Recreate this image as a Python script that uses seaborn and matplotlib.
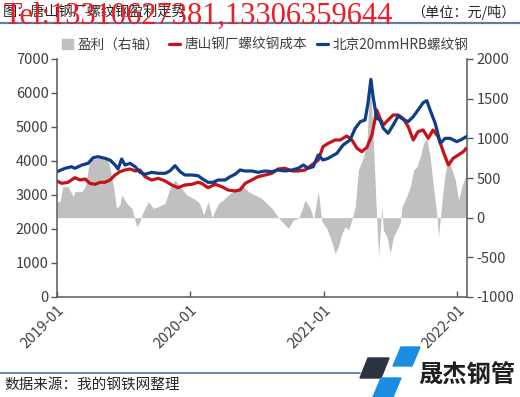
import pandas as pd
import numpy as np
import matplotlib
matplotlib.use("Agg")
import matplotlib.pyplot as plt
import matplotlib.dates as mdates
from matplotlib.patches import Patch, Polygon
from matplotlib.lines import Line2D
import seaborn as sns

# 北京20mmHRB螺纹钢 (元/吨)
blue_dates = ['2019-01-01', '2019-01-23', '2019-02-10', '2019-02-19', '2019-03-10', '2019-03-27',
              '2019-04-10', '2019-04-23', '2019-05-12', '2019-05-26', '2019-06-09', '2019-06-17',
              '2019-06-27', '2019-07-06', '2019-07-20', '2019-08-03', '2019-08-16', '2019-08-30',
              '2019-09-17', '2019-10-05', '2019-10-24', '2019-11-06', '2019-11-20', '2019-12-04',
              '2019-12-17', '2020-01-05', '2020-01-22', '2020-02-01', '2020-02-18', '2020-03-03',
              '2020-03-17', '2020-04-05', '2020-04-19', '2020-05-02', '2020-05-16', '2020-05-30',
              '2020-06-17', '2020-07-04', '2020-07-24', '2020-08-11', '2020-08-28', '2020-09-16',
              '2020-10-05', '2020-10-22', '2020-11-05', '2020-11-18', '2020-12-02', '2020-12-16',
              '2020-12-29', '2021-01-12', '2021-02-05', '2021-02-22', '2021-03-13', '2021-03-27',
              '2021-04-10', '2021-04-23', '2021-05-01', '2021-05-09', '2021-05-15', '2021-05-25',
              '2021-06-03', '2021-06-12', '2021-06-25', '2021-07-09', '2021-07-23', '2021-08-05',
              '2021-08-19', '2021-09-02', '2021-09-15', '2021-09-29', '2021-10-09', '2021-10-18',
              '2021-11-01', '2021-11-15', '2021-11-28', '2021-12-12', '2021-12-30', '2022-01-13',
              '2022-01-25']
blue_vals = [3685, 3785, 3832, 3785, 3882, 3932,
             4098, 4127, 4079, 4029, 3882, 3765,
             4059, 3882, 3932, 3832, 3667, 3608,
             3667, 3638, 3638, 3706, 3862, 3685,
             3588, 3588, 3568, 3490, 3373, 3373,
             3441, 3441, 3539, 3608, 3735, 3706,
             3706, 3667, 3706, 3685, 3735, 3706,
             3735, 3785, 3882, 3785, 3832, 4176,
             4029, 4079, 4226, 4471, 4618, 4961,
             5157, 5206, 5696, 6400, 5891, 5255,
             5206, 4961, 4814, 5059, 5324, 5226,
             5157, 5304, 5500, 5716, 5775, 5500,
             5108, 4520, 4667, 4667, 4569, 4637,
             4716]

# 唐山钢厂螺纹钢成本 (元/吨)
red_dates = ['2019-01-01', '2019-01-14', '2019-01-31', '2019-02-19', '2019-03-05', '2019-03-19',
             '2019-04-01', '2019-04-15', '2019-04-29', '2019-05-12', '2019-05-26', '2019-06-09',
             '2019-06-22', '2019-07-06', '2019-07-20', '2019-08-03', '2019-08-16', '2019-08-30',
             '2019-09-17', '2019-10-05', '2019-10-24', '2019-11-11', '2019-11-28', '2019-12-17',
             '2020-01-05', '2020-01-22', '2020-02-01', '2020-02-18', '2020-03-09', '2020-03-27',
             '2020-04-13', '2020-05-02', '2020-05-16', '2020-05-30', '2020-06-17', '2020-07-04',
             '2020-07-24', '2020-08-11', '2020-08-28', '2020-09-16', '2020-10-05', '2020-10-22',
             '2020-11-10', '2020-11-28', '2020-12-16', '2020-12-29', '2021-01-12', '2021-01-31',
             '2021-02-14', '2021-03-04', '2021-03-18', '2021-04-01', '2021-04-14', '2021-04-28',
             '2021-05-12', '2021-05-25', '2021-06-03', '2021-06-12', '2021-06-25', '2021-07-09',
             '2021-07-23', '2021-08-05', '2021-08-19', '2021-09-02', '2021-09-15', '2021-09-29',
             '2021-10-13', '2021-10-26', '2021-11-09', '2021-11-23', '2021-12-07', '2021-12-20',
             '2022-01-03', '2022-01-17', '2022-01-25']
red_vals = [3412, 3343, 3373, 3510, 3441, 3470,
            3343, 3314, 3373, 3373, 3441, 3588,
            3685, 3735, 3765, 3706, 3735, 3539,
            3441, 3490, 3412, 3294, 3215, 3294,
            3314, 3373, 3343, 3215, 3314, 3245,
            3147, 3118, 3147, 3343, 3441, 3539,
            3588, 3638, 3765, 3785, 3706, 3706,
            3735, 3882, 4029, 4422, 4520, 4618,
            4618, 4735, 4618, 4373, 4275, 4402,
            4765, 5500, 5255, 5059, 5206, 5353,
            5353, 5255, 5010, 4618, 4863, 4912,
            4667, 4912, 4716, 4275, 3882, 4079,
            4176, 4275, 4373]

# 盈利 (右轴, 元/吨)
profit_dates = ['2019-01-01', '2019-01-09', '2019-01-17', '2019-01-31', '2019-02-15', '2019-02-19',
                '2019-03-10', '2019-03-19', '2019-04-01', '2019-04-23', '2019-05-21', '2019-05-26',
                '2019-06-04', '2019-06-13', '2019-06-22', '2019-06-27', '2019-07-11', '2019-07-25',
                '2019-08-07', '2019-08-16', '2019-08-25', '2019-09-08', '2019-09-22', '2019-10-05',
                '2019-10-24', '2019-11-06', '2019-11-20', '2019-12-04', '2019-12-22', '2020-01-09',
                '2020-01-22', '2020-01-28', '2020-02-06', '2020-02-19', '2020-02-29', '2020-03-09',
                '2020-03-18', '2020-03-31', '2020-04-14', '2020-05-02', '2020-05-21', '2020-06-08',
                '2020-06-26', '2020-07-14', '2020-08-02', '2020-08-15', '2020-08-29', '2020-09-12',
                '2020-09-25', '2020-10-09', '2020-10-23', '2020-11-01', '2020-11-10', '2020-11-24',
                '2020-12-03', '2020-12-16', '2020-12-26', '2021-01-08', '2021-01-22', '2021-01-31',
                '2021-02-09', '2021-02-19', '2021-02-28', '2021-03-09', '2021-03-18', '2021-03-27',
                '2021-04-05', '2021-04-19', '2021-04-28', '2021-05-07', '2021-05-16', '2021-05-23',
                '2021-05-30', '2021-06-08', '2021-06-12', '2021-06-22', '2021-07-01', '2021-07-10',
                '2021-07-19', '2021-07-28', '2021-08-02', '2021-08-11', '2021-08-25', '2021-09-03',
                '2021-09-12', '2021-09-21', '2021-09-30', '2021-10-09', '2021-10-18', '2021-10-27',
                '2021-11-06', '2021-11-10', '2021-11-19', '2021-11-28', '2021-12-07', '2021-12-17',
                '2021-12-26', '2022-01-04', '2022-01-13', '2022-01-25']
profit_vals = [202, 202, 391, 391, 265, 328,
               328, 391, 728, 749, 728, 623,
               412, 118, 160, 286, 181, 118,
               -113, -50, 76, 202, 118, 139,
               181, 370, 475, 391, 286, 244,
               202, 160, 34, 202, 0, 97,
               181, 223, 286, 349, 412, 328,
               286, 244, 160, 97, 0, -71,
               -134, -29, -8, 97, 223, 118,
               -29, 328, -50, -134, -303, -449,
               -366, -197, -113, -155, -29, 139,
               601, 769, 938, 1778, 938, 181,
               -490, 139, -155, -239, -449, -239,
               -155, -71, 139, 223, 391, 601,
               643, 769, 938, 1000, 769, 391,
               13, -239, 181, 559, 727, 601,
               475, 223, 391, 559]

tick_dates = ['2019-01-01', '2020-01-01', '2021-01-01', '2022-01-01']

sns.set_theme(style="ticks")
plt.rcParams['font.family'] = ['Noto Sans CJK SC', 'DejaVu Sans']
plt.rcParams['axes.unicode_minus'] = False

txt = '#404040'
spine = '#595959'
red = '#c41418'
blue = '#0e3d8a'
grey = '#c0c0c0'

fig = plt.figure(figsize=(5.2, 3.97), dpi=100)
ax = fig.add_axes([57 / 520, 1 - 297 / 397, (467 - 57) / 520, (297 - 59) / 397])
ax2 = ax.twinx()

# profit area behind the price lines
ax2.fill_between(pd.to_datetime(profit_dates), profit_vals, 0, color=grey, lw=0)
ax.set_zorder(ax2.get_zorder() + 1)
ax.patch.set_visible(False)

sns.lineplot(x=pd.to_datetime(red_dates), y=red_vals, ax=ax, color=red, lw=2.3)
sns.lineplot(x=pd.to_datetime(blue_dates), y=blue_vals, ax=ax, color=blue, lw=2.3)

ax.set_ylim(0, 7000)
ax.set_yticks(range(0, 7001, 1000))
ax2.set_ylim(-1000, 2000)
ax2.set_yticks(range(-1000, 2001, 500))
ax.set_xlim(pd.Timestamp('2019-01-01'), pd.Timestamp('2022-01-27'))
ax.set_xticks(pd.to_datetime(tick_dates))
ax.xaxis.set_major_formatter(mdates.DateFormatter('%Y-%m'))
ax.set_xlabel('')
ax.set_ylabel('')

for a in (ax, ax2):
    for s in a.spines.values():
        s.set_color(spine)
        s.set_linewidth(1.1)
    a.spines['top'].set_visible(False)
ax.spines['right'].set_visible(False)
ax2.spines['left'].set_visible(False)
ax2.spines['bottom'].set_visible(False)

ax.tick_params(axis='y', direction='out', length=4, width=1, color=spine,
               labelsize=10.5, labelcolor=txt, pad=2)
ax.tick_params(axis='x', direction='in', length=4, width=1, color=spine,
               labelsize=10.5, labelcolor=txt, pad=4)
ax2.tick_params(axis='y', direction='out', length=4, width=1, color=spine,
                labelsize=10.5, labelcolor=txt, pad=3)
for lab in ax.get_xticklabels():
    lab.set_rotation(45)
    lab.set_ha('right')
    lab.set_rotation_mode('anchor')

handles = [Patch(color=grey, label='盈利（右轴）'),
           Line2D([], [], color=red, lw=2.3, label='唐山钢厂螺纹钢成本'),
           Line2D([], [], color=blue, lw=2.3, label='北京20mmHRB螺纹钢')]
leg = fig.legend(handles=handles, loc='center', bbox_to_anchor=(0.51, 1 - 45 / 397),
                 ncol=3, frameon=False, fontsize=9.8, handlelength=0.8, handleheight=0.7,
                 handletextpad=0.35, columnspacing=0.7)
for t in leg.get_texts():
    t.set_color(txt)

# header and footer
fig.text(3 / 520, 1 - 12 / 397, '图：唐山钢厂螺纹钢盈利走势', fontsize=10.2, color='#262626',
         ha='left', va='center')
fig.text(516 / 520, 1 - 12 / 397, '（单位：元/吨）', fontsize=10.2, color='#262626',
         ha='right', va='center')
fig.add_artist(Line2D([0, 1], [1 - 22.5 / 397] * 2, color='#5e7ea5', lw=1.6,
                      transform=fig.transFigure))
fig.text(4 / 520, 1 - 16 / 397, 'Tel:13310627381,13306359644', fontsize=22,
         family=['Liberation Serif', 'DejaVu Serif'], color='#ee1c25',
         ha='left', va='center')

fig.add_artist(Line2D([0, 360 / 520], [1 - 373 / 397] * 2, color='#5e7ea5', lw=1.3,
                      transform=fig.transFigure))
fig.text(4 / 520, 1 - 385 / 397, '数据来源：我的钢铁网整理', fontsize=10.5, color='#262626',
         ha='left', va='center')

# logo
def px(pts):
    return [(x / 520, 1 - y / 397) for x, y in pts]

fig.add_artist(Polygon(px([(368, 358), (389, 358), (381, 378), (360, 378)]),
                       closed=True, color='#2b3340', transform=fig.transFigure))
fig.add_artist(Polygon(px([(401, 347), (420, 347), (412, 366), (393, 366)]),
                       closed=True, color='#1a8de0', transform=fig.transFigure))
fig.add_artist(Polygon(px([(381, 378), (401, 378), (393, 397), (373, 397)]),
                       closed=True, color='#1a8de0', transform=fig.transFigure))
fig.text(467 / 520, 1 - 376 / 397, '晟杰钢管', fontsize=17.5, fontweight='bold',
         color='#1f1f1f', ha='center', va='center')

fig.savefig('out.png', dpi=100)
